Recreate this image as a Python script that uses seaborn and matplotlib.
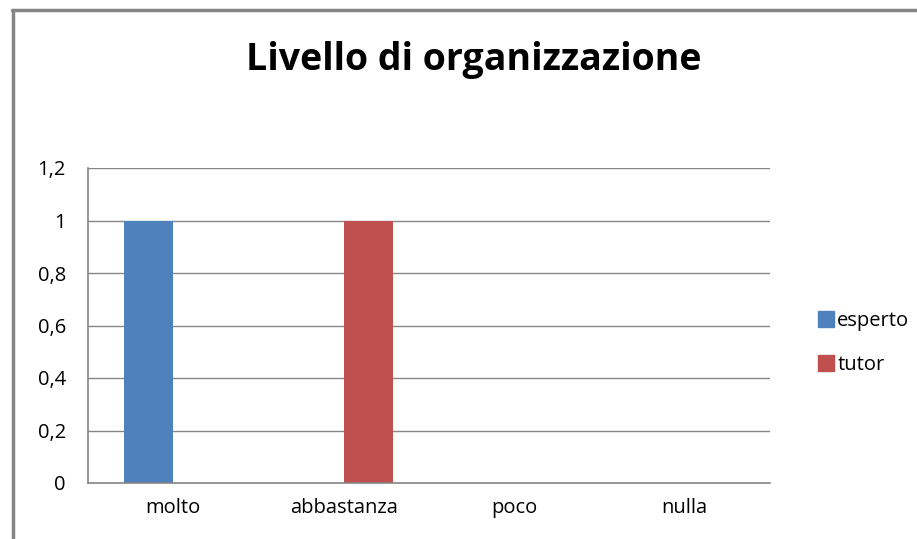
import pandas as pd
import numpy as np
import matplotlib.pyplot as plt
import seaborn as sns
from matplotlib.lines import Line2D
from matplotlib.ticker import FuncFormatter

# data
categories = ['molto', 'abbastanza', 'poco', 'nulla']
esperto = [1, 0, 0, 0]
tutor = [0, 1, 0, 0]
series = ['esperto', 'tutor']
y_ticks = [0, 0.2, 0.4, 0.6, 0.8, 1.0, 1.2]

df = pd.DataFrame({
    'livello': categories * 2,
    'valore': esperto + tutor,
    'serie': ['esperto'] * len(categories) + ['tutor'] * len(categories),
})

sns.set_style("white")
plt.rcParams['font.family'] = ['Open Sans', 'DejaVu Sans']
plt.rcParams['text.color'] = 'black'
plt.rcParams['xtick.color'] = 'black'
plt.rcParams['ytick.color'] = 'black'

fig = plt.figure(figsize=(9.17, 5.39), dpi=100)
ax = fig.add_axes([88 / 917, 1 - 483 / 539, (770 - 88) / 917, (483 - 168) / 539])

sns.barplot(data=df, x='livello', y='valore', hue='serie', order=categories,
            hue_order=series, palette=['#4F81BD', '#C0504D'], width=0.58,
            saturation=1, errorbar=None, linewidth=0, ax=ax, legend=False)

grid_c = '#868686'
ax.set_ylim(0, 1.2)
ax.set_yticks(y_ticks)
ax.yaxis.set_major_formatter(FuncFormatter(lambda v, p: ('%g' % round(v, 1)).replace('.', ',')))
ax.set_xlim(-0.5, len(categories) - 0.5)
ax.grid(axis='y', color=grid_c, linewidth=1)
ax.set_axisbelow(True)
ax.set_xlabel('')
ax.set_ylabel('')

for side in ['top', 'right']:
    ax.spines[side].set_visible(False)
for side in ['left', 'bottom']:
    ax.spines[side].set_color(grid_c)
    ax.spines[side].set_linewidth(1.2)

# category ticks sit at the boundaries
ax.set_xticks(np.arange(len(categories)))
ax.set_xticklabels(categories)
ax.set_xticks(np.arange(len(categories) + 1) - 0.5, minor=True)
ax.tick_params(axis='x', which='major', length=0, pad=11, labelsize=14.5)
ax.tick_params(axis='x', which='minor', length=7, color=grid_c, width=1.2, direction='out')
ax.tick_params(axis='y', length=11, color=grid_c, width=1.2, direction='out', pad=5, labelsize=14.5)

fig.suptitle('Livello di organizzazione', x=0.517, y=1 - 60 / 539, va='center',
             fontsize=27, fontweight='bold')

handles = [plt.Rectangle((0, 0), 1, 1, color=c) for c in ['#4F81BD', '#C0504D']]
fig.legend(handles, series, loc='center left', bbox_to_anchor=(800 / 917, 1 - 343 / 539),
           frameon=False, fontsize=14.5, handlelength=0.8, handleheight=0.8,
           handletextpad=0.15, labelspacing=1.2)

# chart area border (top and left edges visible)
fig.add_artist(Line2D([13 / 917, 13 / 917], [0, 1 - 10 / 539], color='#868686', lw=2.5,
                      transform=fig.transFigure))
fig.add_artist(Line2D([12 / 917, 1], [1 - 10 / 539, 1 - 10 / 539], color='#868686', lw=2.5,
                      transform=fig.transFigure))

plt.savefig("out.png", dpi=100)
